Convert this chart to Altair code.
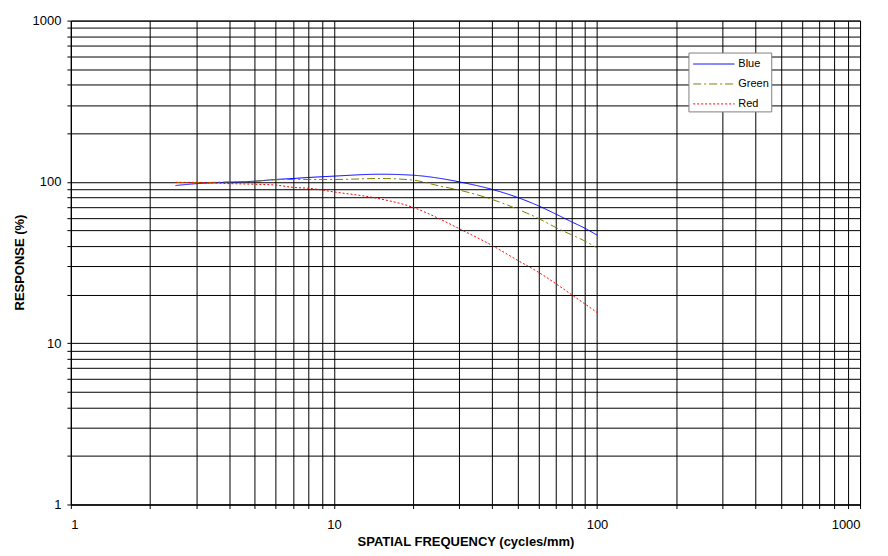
import pandas as pd
import altair as alt

# spatial frequency (cycles/mm) and response (%)
freq = [2.5, 3, 4, 5, 6, 7, 8, 10, 15, 20, 25, 30, 40, 50, 60, 70, 80, 90, 100]
blue = [95, 97.5, 99.6, 101, 103.5, 105, 106.5, 108.6, 111.6, 110, 105.5, 100,
        89.8, 80, 71, 63, 56.6, 51.6, 46.8]
green = [99.3, 99, 100, 101, 103, 103.5, 103.5, 103.5, 105, 102.6, 94.6, 88.9,
         77.8, 67.7, 59.3, 52, 47, 43, 39]
red = [99.3, 99.3, 97.6, 96.7, 95.6, 92.5, 91.3, 86.7, 78.5, 69.5, 59.4, 51.2,
       40.3, 32.6, 27.5, 23.3, 20, 17.5, 15.5]

series = ['Blue', 'Green', 'Red']
colors = ['#0000ff', '#808000', '#ff0000']
dashes = [[1, 0], [8, 3, 2, 3], [2, 2]]

# grid at every 1..9 x 10^k, labels only on the decades
grid_vals = [m * 10 ** k for k in range(3) for m in range(1, 10)] + [1000]
decade_expr = "indexof([1, 10, 100, 1000], datum.value) >= 0 ? datum.label : ''"

df = pd.concat([
    pd.DataFrame({'freq': freq, 'resp': blue, 'series': 'Blue'}),
    pd.DataFrame({'freq': freq, 'resp': green, 'series': 'Green'}),
    pd.DataFrame({'freq': freq, 'resp': red, 'series': 'Red'}),
])

font = 'Liberation Sans'

lines = alt.Chart(df).mark_line(strokeWidth=1, interpolate='monotone').encode(
    x=alt.X('freq:Q',
            scale=alt.Scale(type='log', domain=[1, 1000], nice=False),
            axis=alt.Axis(title='SPATIAL FREQUENCY (cycles/mm)', values=grid_vals,
                          format='d', labelExpr=decade_expr,
                          labelPadding=10, titleY=31, titleBaseline='top')),
    y=alt.Y('resp:Q',
            scale=alt.Scale(type='log', domain=[1, 1000], nice=False),
            axis=alt.Axis(title='RESPONSE (%)', values=grid_vals,
                          format='d', labelExpr=decade_expr,
                          labelPadding=6, titleX=-44, titleY=242)),
    color=alt.Color('series:N', title=None,
                    scale=alt.Scale(domain=series, range=colors)),
    strokeDash=alt.StrokeDash('series:N', title=None,
                              scale=alt.Scale(domain=series, range=dashes)),
)

chart = lines.properties(
    width=791, height=485,
    autosize=alt.AutoSizeParams(type='none'),
    padding={'left': 63, 'top': 12, 'right': 20, 'bottom': 60},
).configure_view(
    stroke='#000000', strokeWidth=1
).configure_axis(
    grid=True, gridColor='#000000', gridOpacity=1, gridWidth=1,
    domainColor='#000000', tickColor='#000000', tickSize=4,
    labelFont=font, labelFontSize=13, labelColor='#000000',
    titleFont=font, titleFontSize=13, titleFontWeight='bold', titleColor='#000000',
).configure_legend(
    orient='none', legendX=619, legendY=32,
    fillColor='#ffffff', strokeColor='#808080', padding=2,
    symbolType='M-2.3,0H2.3', symbolSize=324, symbolStrokeWidth=1,
    symbolOffset=14, labelOffset=15, rowPadding=5,
    labelFont=font, labelFontSize=11, labelColor='#000000',
)

chart.save("out.html", embed_options={"renderer": "svg", "actions": False})
